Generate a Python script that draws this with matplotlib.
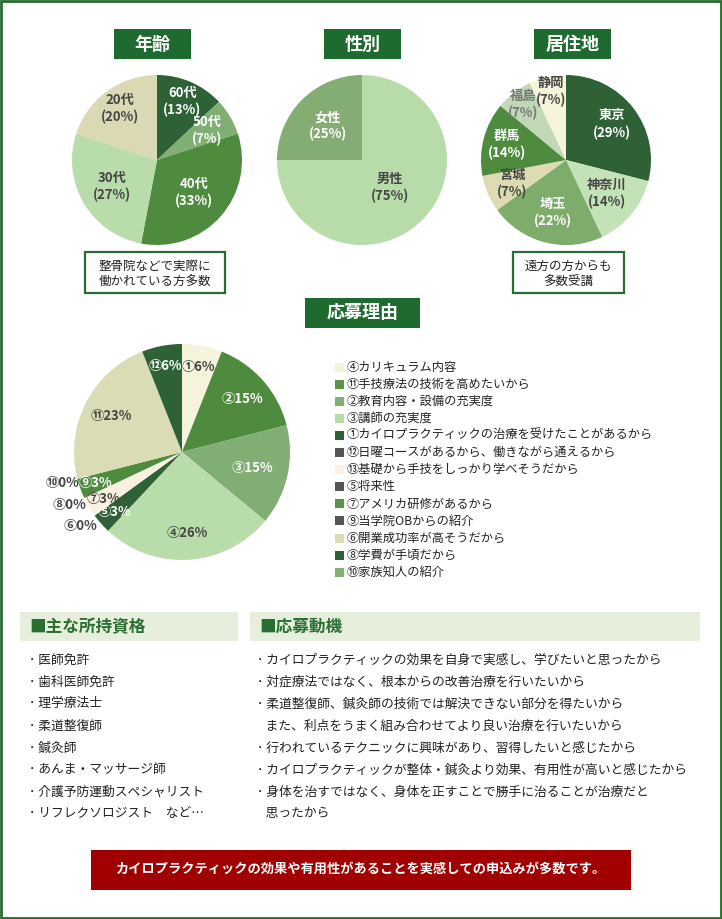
import matplotlib
matplotlib.use("Agg")
import matplotlib.pyplot as plt
from matplotlib.patches import Rectangle
import numpy as np

plt.rcParams['font.family'] = ['Noto Sans CJK JP', 'DejaVu Sans']

# data
age_labels = ['60代', '50代', '40代', '30代', '20代']
age_values = [13, 7, 33, 27, 20]
gender_labels = ['男性', '女性']
gender_values = [75, 25]
area_labels = ['東京', '神奈川', '埼玉', '宮城', '群馬', '福島', '静岡']
area_values = [29, 14, 22, 7, 14, 7, 7]
reason_labels = ['①', '②', '③', '④', '⑤', '⑥', '⑦', '⑧', '⑨', '⑩', '⑪', '⑫']
reason_values = [6, 15, 15, 26, 3, 0, 3, 0, 3, 0, 23, 6]
legend_labels = [
    '④カリキュラム内容',
    '⑪手技療法の技術を高めたいから',
    '②教育内容・設備の充実度',
    '③講師の充実度',
    '①カイロプラクティックの治療を受けたことがあるから',
    '⑫日曜コースがあるから、働きながら通えるから',
    '⑬基礎から手技をしっかり学べそうだから',
    '⑤将来性',
    '⑦アメリカ研修があるから',
    '⑨当学院OBからの紹介',
    '⑥開業成功率が高そうだから',
    '⑧学費が手頃だから',
    '⑩家族知人の紹介',
]
qualifications = ['･ 医師免許', '･ 歯科医師免許', '･ 理学療法士', '･ 柔道整復師', '･ 鍼灸師',
                  '･ あんま・マッサージ師', '･ 介護予防運動スペシャリスト',
                  '･ リフレクソロジスト　など…']
motives = [
    '･ カイロプラクティックの効果を自身で実感し、学びたいと思ったから',
    '･ 対症療法ではなく、根本からの改善治療を行いたいから',
    '･ 柔道整復師、鍼灸師の技術では解決できない部分を得たいから',
    '   また、利点をうまく組み合わせてより良い治療を行いたいから',
    '･ 行われているテクニックに興味があり、習得したいと感じたから',
    '･ カイロプラクティックが整体・鍼灸より効果、有用性が高いと感じたから',
    '･ 身体を治すではなく、身体を正すことで勝手に治ることが治療だと',
    '   思ったから',
]

# colours / styles
DARK = '#2e6135'
MID = '#4f8b3e'
MEDL = '#80ae73'
LIGHT = '#b9dcab'
BEIGE = '#dad9b4'
BADGE = '#1f6a2f'
TXT = '#454545'
W = 722
H = 919

fig = plt.figure(figsize=(W / 100, H / 100), dpi=100)
bg = fig.add_axes([0, 0, 1, 1], zorder=0)
bg.set_xlim(0, W)
bg.set_ylim(H, 0)
bg.axis('off')


def badge(x, y, w, h, text, size=13):
    bg.add_patch(Rectangle((x, y), w, h, color=BADGE, lw=0))
    bg.text(x + w / 2, y + h / 2, text, color='white', fontsize=size,
            fontweight='bold', ha='center', va='center')


def pie_axes(cx, cy, r):
    ax = fig.add_axes([(cx - r) / W, 1 - (cy + r) / H, 2 * r / W, 2 * r / H], zorder=2)
    return ax


def draw_pie(ax, values, texts, colors, dists, tcolors, size=9.5, ls=1.25):
    wedges, _ = ax.pie(values, colors=colors, startangle=90, counterclock=False,
                       wedgeprops=dict(linewidth=0))
    for wdg, t, d, c in zip(wedges, texts, dists, tcolors):
        ang = np.deg2rad((wdg.theta1 + wdg.theta2) / 2)
        ax.text(d * np.cos(ang), d * np.sin(ang), t, ha='center', va='center',
                color=c, fontsize=size, fontweight='bold', linespacing=ls)
    ax.set_xlim(-1, 1)
    ax.set_ylim(-1, 1)
    ax.set_aspect('equal')
    ax.axis('off')


# top row
badge(114, 29, 77, 30, '年齢')
badge(324, 29, 77, 30, '性別')
badge(534, 29, 77, 30, '居住地')

ax1 = pie_axes(157, 160, 85)
draw_pie(ax1, age_values, [f'{l}\n({v}%)' for l, v in zip(age_labels, age_values)],
         [DARK, MEDL, MID, LIGHT, BEIGE], [0.75, 0.69, 0.58, 0.61, 0.75],
         ['white', 'white', 'white', TXT, TXT])

ax2 = pie_axes(362, 160, 85)
draw_pie(ax2, gender_values, [f'{l}\n({v}%)' for l, v in zip(gender_labels, gender_values)],
         ['#b7dba9', '#83ad73'], [0.46, 0.57], [TXT, 'white'])

ax3 = pie_axes(566, 160, 85)
draw_pie(ax3, area_values, [f'{l}\n({v}%)' for l, v in zip(area_labels, area_values)],
         [DARK, '#c4e2b7', '#7eac6a', '#dedbb2', MID, '#c0d8b6', '#f5f3da'],
         [0.69, 0.62, 0.64, 0.69, 0.72, 0.82, 0.82],
         ['white', TXT, 'white', TXT, 'white', '#777777', TXT])

# note boxes
for x, w, lines in [(85, 140, ['整骨院などで実際に', '働かれている方多数']),
                    (513, 111, ['遠方の方からも', '多数受講'])]:
    bg.add_patch(Rectangle((x, 252), w, 41, facecolor='white', edgecolor='#2a6b33', lw=1.6))
    for k, line in enumerate(lines):
        bg.text(x + w / 2, 266 + k * 16, line, ha='center', va='center',
                fontsize=9, color='#222222')

# reasons
badge(305, 298, 115, 30, '応募理由')

ax4 = pie_axes(182, 452, 108)
draw_pie(ax4, reason_values, [f'{l}{v}%' for l, v in zip(reason_labels, reason_values)],
         ['#f5f3dc', MID, MEDL, LIGHT, DARK, BEIGE, '#faf1e1', DARK, MID, '#83ad73',
          '#dadcb5', DARK],
         [0.8, 0.74, 0.67, 0.75, 0.84, 1.16, 0.85, 1.15, 0.85, 1.14, 0.73, 0.81],
         [TXT, 'white', 'white', TXT, 'white', TXT, TXT, TXT, 'white', TXT, TXT, 'white'],
         size=9.5)

legend_colors = ['#f3f3d9', '#5a9448', '#82b074', '#b8dca9', DARK, '#555555', '#fbf1e3',
                 '#555555', '#5a9448', '#555555', '#dcdcb5', DARK, '#82b074']
for i, (lab, col) in enumerate(zip(legend_labels, legend_colors)):
    y = 367 + 17.1 * i
    bg.add_patch(Rectangle((334.5, y - 4.5), 9, 9, color=col, lw=0))
    bg.text(347, y, lab, ha='left', va='center', fontsize=8.8, color='#222222')

# bottom lists
for x, w, title in [(20, 218, '■主な所持資格'), (250, 450, '■応募動機')]:
    bg.add_patch(Rectangle((x, 612), w, 29, color='#e5efdb', lw=0))
    bg.text(x + 9, 627, title, ha='left', va='center', fontsize=12,
            fontweight='bold', color='#2b6e33')

rows = [660, 682, 704, 726, 748, 770, 792, 814]
for y, q in zip(rows, qualifications):
    bg.text(29, y, q, ha='left', va='center', fontsize=9.2, color='#222222')
for y, m in zip(rows, motives):
    bg.text(257, y, m, ha='left', va='center', fontsize=9.2, color='#222222')

# banner
bg.add_patch(Rectangle((91, 850), 540, 40, color='#a00000', lw=0))
bg.text(361, 869, 'カイロプラクティックの効果や有用性があることを実感しての申込みが多数です。',
        ha='center', va='center', fontsize=9.5, fontweight='bold', color='white')

# page border
bg.add_patch(Rectangle((1, 1), W - 2, H - 2, fill=False, edgecolor='#2a6b33', lw=2))

fig.savefig('out.png', dpi=100)
